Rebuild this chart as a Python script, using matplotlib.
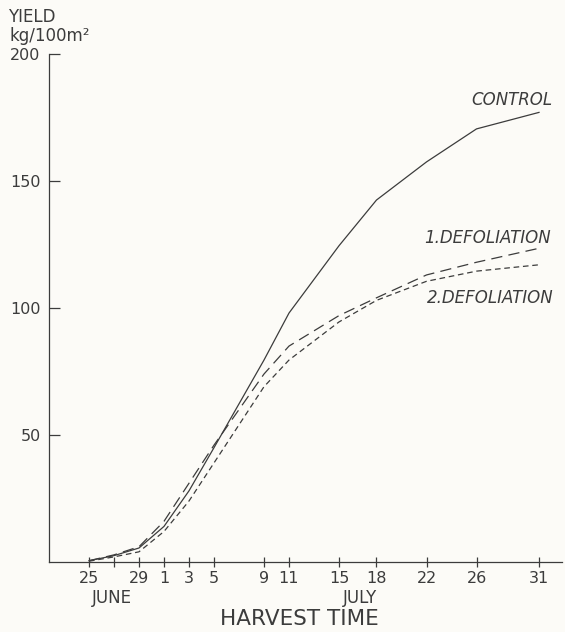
import datetime as dt
import matplotlib
matplotlib.use("Agg")
import matplotlib.pyplot as plt

# harvest dates and cumulative yield (kg/100 m2)
harvest_dates = [dt.date(1900, 6, 25), dt.date(1900, 6, 27), dt.date(1900, 6, 29),
                 dt.date(1900, 7, 1), dt.date(1900, 7, 3), dt.date(1900, 7, 5),
                 dt.date(1900, 7, 9), dt.date(1900, 7, 11), dt.date(1900, 7, 15),
                 dt.date(1900, 7, 18), dt.date(1900, 7, 22), dt.date(1900, 7, 26),
                 dt.date(1900, 7, 31)]
control = [0.5, 2.5, 5.5, 14, 28, 45, 79.5, 98, 124.5, 142.5, 157.5, 170.5, 177]
defol_1 = [0.5, 2.8, 6.0, 16, 31, 46, 74, 85, 97, 104, 113, 118, 123.5]
defol_2 = [0.3, 2.0, 4.0, 12, 24, 39, 69, 79.5, 94.5, 103, 110.5, 114.5, 117]

tick_labels = ["25", "", "29", "1", "3", "5", "9", "11", "15", "18", "22", "26", "31"]
y_ticks = [50, 100, 150, 200]

start = harvest_dates[0]
days = [(d - start).days for d in harvest_dates]

ink = "#3c3c3c"
plt.rcParams["font.family"] = "DejaVu Sans"

fig = plt.figure(figsize=(5.65, 6.32), dpi=100, facecolor="#fcfbf7")
ax = fig.add_axes([0.0867, 0.1108, 0.9080, 0.8038])
ax.set_facecolor("none")

ax.plot(days, control, color=ink, lw=0.9)
ax.plot(days, defol_1, color=ink, lw=0.9, dashes=(9, 5))
ax.plot(days, defol_2, color=ink, lw=0.9, dashes=(4.5, 3))

ax.set_xlim(-3.2, 37.84)
ax.set_ylim(0, 200)

for s in ["top", "right"]:
    ax.spines[s].set_visible(False)
for s in ["left", "bottom"]:
    ax.spines[s].set_color(ink)
    ax.spines[s].set_linewidth(0.9)

ax.set_xticks(days)
ax.set_xticklabels(tick_labels)
ax.set_yticks(y_ticks)
ax.tick_params(axis="x", direction="inout", length=7, width=0.9, color=ink,
               labelsize=11.5, labelcolor=ink, pad=3)
ax.tick_params(axis="y", direction="in", length=8, width=0.9, color=ink,
               labelsize=11.5, labelcolor=ink, pad=6)

# month names under the date ticks
ax.text(days[1] - 0.2, -14, "JUNE", ha="center", va="center", fontsize=12, color=ink)
ax.text(days[9] - 1.3, -14, "JULY", ha="center", va="center", fontsize=12, color=ink)
ax.text(16.8, -22.5, "HARVEST TIME", ha="center", va="center", fontsize=15.5,
        color=ink)

fig.text(0.014, 0.988, "YIELD", ha="left", va="top", fontsize=12, color=ink)
fig.text(0.016, 0.958, "kg/100m²", ha="left", va="top", fontsize=12, color=ink)

ax.text(33.8, 182, "CONTROL", ha="center", va="center", fontsize=12,
        style="italic", color=ink)
ax.text(31.9, 127.5, "1.DEFOLIATION", ha="center", va="center", fontsize=12,
        style="italic", color=ink)
ax.text(32.1, 104, "2.DEFOLIATION", ha="center", va="center", fontsize=12,
        style="italic", color=ink)

fig.savefig("out.png", dpi=100, facecolor=fig.get_facecolor())
